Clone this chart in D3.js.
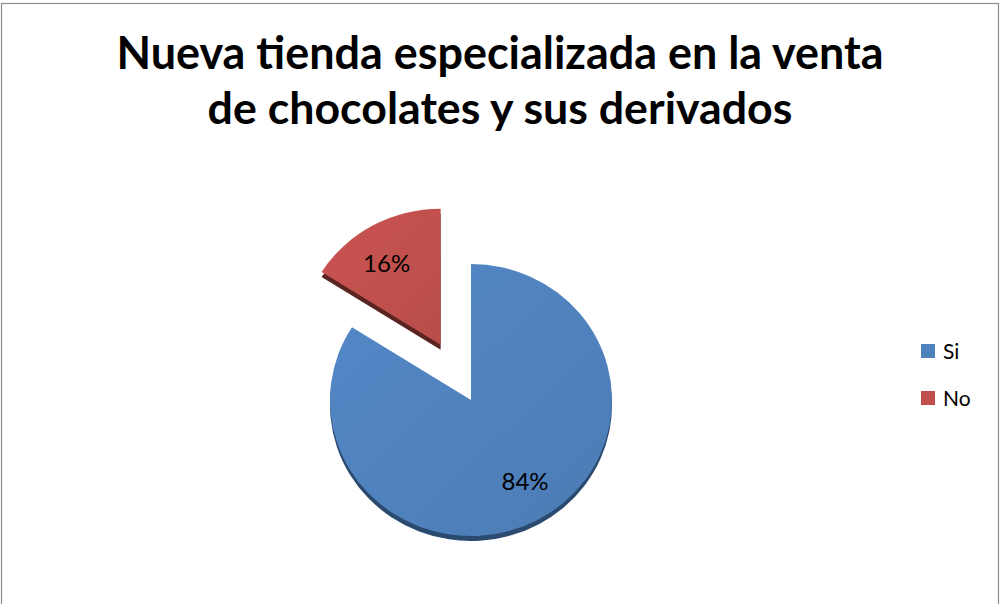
<!DOCTYPE html>
<html>
<head>
<meta charset="utf-8">
<script src="https://cdn.jsdelivr.net/npm/d3@7"></script>
<style>
    body { margin: 0; background: #fff; }
    svg { display: block; }
</style>
</head>
<body>
<svg id="chart" width="1000" height="604"></svg>
<script>
const titleLines = ["Nueva tienda especializada en la venta", "de chocolates y sus derivados"];
const categories = ["Si", "No"];
const values = [84, 16];
const colors = ["#4F81BD", "#C0504D"];
const edgeColors = ["#2b4a70", "#5a2421"];

const width = 1000;
const height = 604;
const svg = d3.select("#chart");

// chart frame
svg.append("rect")
    .attr("x", 1.5).attr("y", 3.5)
    .attr("width", 997).attr("height", 620)
    .attr("fill", "#fff")
    .attr("stroke", "#8c8c8c")
    .attr("stroke-width", 1.2);

// title, fitted to the widths seen in the reference
const titleWidths = [767, 585];
const titleBaselines = [69, 124];
titleLines.forEach((line, i) => {
    const t = svg.append("text")
        .attr("x", width / 2)
        .attr("y", titleBaselines[i])
        .attr("text-anchor", "middle")
        .attr("font-family", "Lato, 'Open Sans', sans-serif")
        .attr("font-weight", "bold")
        .attr("font-size", 44)
        .attr("fill", "#000")
        .text(line);
    const w = t.node().getComputedTextLength();
    t.attr("font-size", 44 * titleWidths[i] / w);
});

// pie
const cx = 471, cy = 400;
const radius = 141;
const squash = 136 / 141;
const explode = 63;
const depth = 5;

const pie = d3.pie().sort(null).value(d => d)(values);
const arc = d3.arc().innerRadius(0).outerRadius(radius);
const labelArc = d3.arc().innerRadius(0).outerRadius(radius * 1.42);

const defs = svg.append("defs");
colors.forEach((c, i) => {
    const g = defs.append("linearGradient")
        .attr("id", "grad" + i)
        .attr("x1", "0%").attr("y1", "0%")
        .attr("x2", "100%").attr("y2", "100%");
    g.append("stop").attr("offset", "0%").attr("stop-color", d3.color(c).brighter(0.15));
    g.append("stop").attr("offset", "100%").attr("stop-color", d3.color(c).darker(0.12));
});

const slices = svg.append("g")
    .selectAll("g")
    .data(pie)
    .join("g")
    .attr("transform", (d, i) => {
        let dx = 0, dy = 0;
        if (i === 1) {
            const mid = (d.startAngle + d.endAngle) / 2;
            dx = Math.sin(mid) * explode;
            dy = -Math.cos(mid) * explode;
        }
        return `translate(${cx + dx},${cy + dy})`;
    });

// side edge (drawn first, shifted down)
slices.append("path")
    .attr("transform", `translate(0,${depth}) scale(1,${squash})`)
    .attr("d", arc)
    .attr("fill", (d, i) => edgeColors[i]);

slices.append("path")
    .attr("transform", `scale(1,${squash})`)
    .attr("d", arc)
    .attr("fill", (d, i) => `url(#grad${i})`);

slices.append("text")
    .attr("transform", d => {
        const [x, y] = labelArc.centroid(d);
        return `translate(${x * 1.12},${y * squash * 0.96})`;
    })
    .attr("text-anchor", "middle")
    .attr("dy", "0.35em")
    .attr("font-family", "Lato, 'Open Sans', sans-serif")
    .attr("font-size", 24)
    .attr("fill", "#000")
    .text(d => d.value + "%");

// legend
const legend = svg.append("g")
    .selectAll("g")
    .data(categories)
    .join("g")
    .attr("transform", (d, i) => `translate(921,${344 + i * 47})`);

legend.append("rect")
    .attr("width", 14).attr("height", 14)
    .attr("fill", (d, i) => colors[i]);

legend.append("text")
    .attr("x", 22).attr("y", 7)
    .attr("dy", "0.36em")
    .attr("font-family", "Lato, 'Open Sans', sans-serif")
    .attr("font-size", 21)
    .attr("fill", "#000")
    .text(d => d);
</script>
</body>
</html>
